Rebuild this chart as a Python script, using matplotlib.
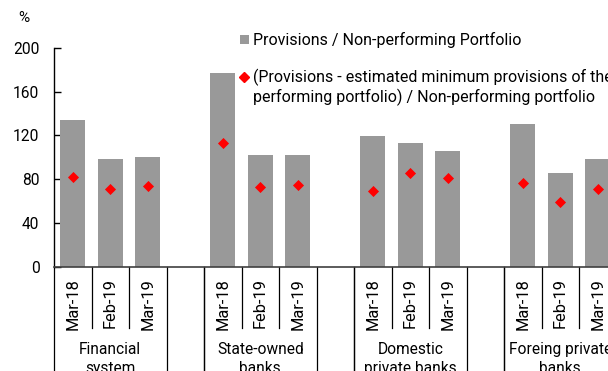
import numpy as np
import matplotlib.pyplot as plt
from matplotlib.lines import Line2D
from matplotlib.patches import Rectangle
import matplotlib.transforms as mtransforms

plt.rcParams["font.family"] = ["Roboto", "DejaVu Sans"]

# Data
groups = ["Financial\nsystem", "State-owned\nbanks", "Domestic\nprivate banks", "Foreing private\nbanks"]
periods = ["Mar-18", "Feb-19", "Mar-19"]
provisions_npl = [134, 98, 100, 177, 102, 102, 119, 113, 106, 130, 86, 98]
adjusted_npl = [82, 71, 74, 113, 72.5, 75, 69, 86, 81, 76, 59, 71]

label_bar = "Provisions / Non-performing Portfolio"
label_dot = ("(Provisions - estimated minimum provisions of the\n"
             "performing portfolio) / Non-performing portfolio")

bar_color = "#999999"
dot_color = "#ff0000"

# positions: 3 bars per group, one blank slot between groups
pos = []
for g in range(len(groups)):
    for p in range(len(periods)):
        pos.append(g * 4 + p)
pos = np.array(pos)

W, H = 608, 371
fig = plt.figure(figsize=(W / 100, H / 100), dpi=100)
ax = fig.add_axes([54 / W, 104.3 / H, 562.5 / W, 219 / H])

ax.bar(pos, provisions_npl, width=0.667, color=bar_color, zorder=2)
ax.scatter(pos, adjusted_npl, marker="D", s=32, color=dot_color, zorder=3, linewidths=0)

ax.set_xlim(-0.5, 14.5)
ax.set_ylim(0, 200)
ax.set_yticks(np.arange(0, 201, 40))
ax.tick_params(axis="y", direction="in", length=5, pad=10.5, labelsize=11.2, width=1)
ax.set_xticks(pos)
ax.set_xticklabels(periods * len(groups), rotation=90, fontsize=11.8)
ax.tick_params(axis="x", length=0, pad=8)
for s in ["top", "right"]:
    ax.spines[s].set_visible(False)
ax.spines["left"].set_linewidth(1)
ax.spines["bottom"].set_color("#404040")
ax.spines["bottom"].set_linewidth(1.2)

# category separators below the axis
trans = mtransforms.blended_transform_factory(ax.transData, ax.transAxes)
for g in range(len(groups)):
    left = g * 4 - 0.5
    for k, x in enumerate([left, left + 1, left + 2, left + 3]):
        y_end = -0.6 if k in (0, 3) else -0.28
        ax.add_line(Line2D([x, x], [0, y_end], transform=trans, color="black",
                           linewidth=0.9, clip_on=False))
    ax.add_line(Line2D([left + 4, left + 4], [0, -0.6], transform=trans, color="black",
                       linewidth=0.9, clip_on=False))
    ax.text(g * 4 + 1, -0.342, groups[g], transform=trans, ha="center", va="top",
            fontsize=11.2, linespacing=1.4)

fig.text(24 / W, 1 - 18 / H, "%", ha="center", va="center", fontsize=11)

# legend drawn by hand so the diamond sits beside the first text line
fig.add_artist(Rectangle((240.5 / W, 1 - 43.5 / H), 8.5 / W, 8.5 / H,
                         transform=fig.transFigure, facecolor=bar_color, edgecolor="none"))
fig.text(253 / W, 1 - 40 / H, label_bar, ha="left", va="center", fontsize=11.5)
fig.add_artist(Line2D([243.5 / W], [1 - 77 / H], transform=fig.transFigure, marker="D",
                      markersize=5, color=dot_color, linestyle="none"))
fig.text(253 / W, 1 - 68.5 / H, label_dot, ha="left", va="top", fontsize=11.5,
         linespacing=1.2)

fig.savefig("out.png", dpi=100)
